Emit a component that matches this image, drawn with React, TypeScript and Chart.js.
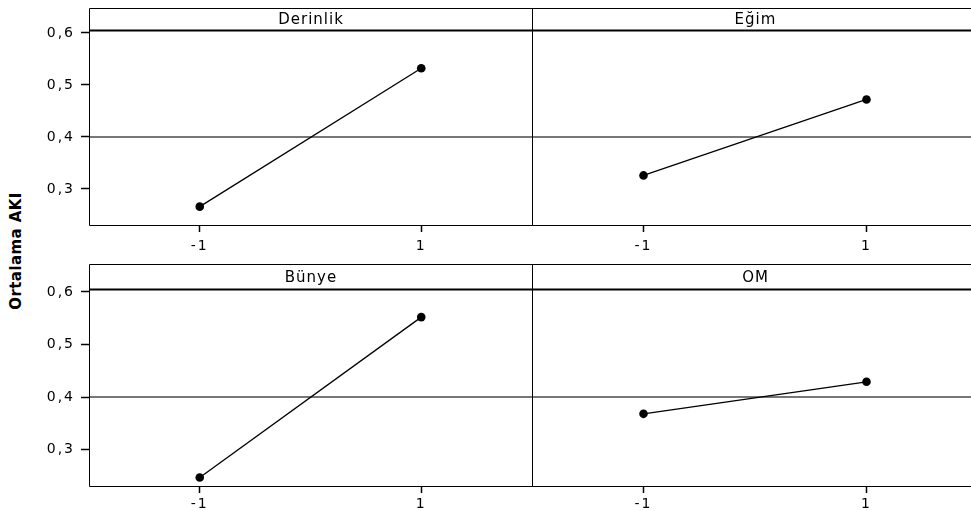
import React, { useEffect, useRef } from "react";
import { Chart, registerables } from "chart.js";

Chart.register(...registerables);

// ---------- data ----------
const levels = [-1, 1];
const derinlikMeans = [0.266, 0.532];
const egimMeans = [0.326, 0.472];
const bunyeMeans = [0.247, 0.552];
const omMeans = [0.368, 0.429];
const grandMean = 0.4;
const yTickValues = [0.3, 0.4, 0.5, 0.6];
const xTickValues = [-1, 1];
const panelNames = ["Derinlik", "Eğim", "Bünye", "OM"];
const yAxisTitle = "Ortalama AKI";

const FONT = "'DejaVu Sans', Verdana, sans-serif";

type PanelCfg = {
  name: string;
  values: number[];
  left: number;
  top: number;
  width: number;
  height: number;
  padLeft: number;
  padTop: number;
  padRight: number;
  yWidth: number;
  xHeight: number;
  xPad: number;
  stripH: number;
  showY: boolean;
  drawRight: boolean;
};

const panels: PanelCfg[] = [
  { name: panelNames[0], values: derinlikMeans, left: 30, top: 0, width: 504, height: 254, padLeft: 0, padTop: 30, padRight: 2, yWidth: 59, xHeight: 29, xPad: 6, stripH: 22, showY: true, drawRight: true },
  { name: panelNames[1], values: egimMeans, left: 522, top: 0, width: 460, height: 254, padLeft: 10, padTop: 30, padRight: 4, yWidth: 0, xHeight: 29, xPad: 6, stripH: 22, showY: false, drawRight: false },
  { name: panelNames[2], values: bunyeMeans, left: 30, top: 256, width: 504, height: 255, padLeft: 0, padTop: 33, padRight: 2, yWidth: 59, xHeight: 25, xPad: 3, stripH: 25, showY: true, drawRight: true },
  { name: panelNames[3], values: omMeans, left: 522, top: 256, width: 460, height: 255, padLeft: 10, padTop: 33, padRight: 4, yWidth: 0, xHeight: 25, xPad: 3, stripH: 25, showY: false, drawRight: false },
];

const boxPlugin = {
  id: "panelBox",
  beforeDraw(chart: any) {
    (chart.ctx as any).letterSpacing = "2px";
  },
  afterDraw(chart: any) {
    const cfg: PanelCfg = chart.options.plugins.panelBox.cfg;
    const { left, top, right, bottom } = chart.chartArea;
    const ctx = chart.ctx as CanvasRenderingContext2D;
    const L = Math.floor(left) + 0.5;
    const R = Math.floor(right) + 0.5;
    const T = Math.floor(top) + 0.5;
    const B = Math.floor(bottom) + 0.5;
    const ST = T - cfg.stripH;
    ctx.save();
    ctx.strokeStyle = "#000";
    ctx.lineWidth = 1;
    ctx.beginPath();
    ctx.moveTo(R, ST);
    ctx.lineTo(L, ST);
    ctx.lineTo(L, B);
    ctx.lineTo(R, B);
    if (cfg.drawRight) ctx.lineTo(R, ST);
    ctx.stroke();
    ctx.lineWidth = 1.8;
    ctx.beginPath();
    ctx.moveTo(L, T);
    ctx.lineTo(R, T);
    ctx.stroke();
    ctx.fillStyle = "#000";
    ctx.font = `15px ${FONT}`;
    (ctx as any).letterSpacing = "1px";
    ctx.textAlign = "center";
    ctx.textBaseline = "middle";
    ctx.fillText(cfg.name, (left + right) / 2 + 0.5, ST + cfg.stripH / 2 + 1);
    ctx.restore();
  },
};

function Panel({ cfg }: { cfg: PanelCfg }) {
  const ref = useRef<HTMLCanvasElement>(null);
  useEffect(() => {
    const chart = new Chart(ref.current as HTMLCanvasElement, {
      type: "line",
      data: {
        datasets: [
          {
            data: levels.map((x, i) => ({ x, y: cfg.values[i] })),
            borderColor: "#000",
            borderWidth: 1.3,
            pointRadius: 4.3,
            pointBackgroundColor: "#000",
            pointBorderColor: "#000",
            pointBorderWidth: 0,
          },
          {
            data: [
              { x: -2, y: grandMean },
              { x: 2, y: grandMean },
            ],
            borderColor: "#4a4a4a",
            borderWidth: 1.5,
            pointRadius: 0,
          },
        ],
      },
      options: {
        animation: false,
        responsive: false,
        maintainAspectRatio: false,
        devicePixelRatio: 1,
        events: [],
        layout: { autoPadding: false, padding: { left: cfg.padLeft, top: cfg.padTop, right: cfg.padRight, bottom: 0 } },
        plugins: {
          legend: { display: false },
          tooltip: { enabled: false },
          title: { display: false },
          panelBox: { cfg },
        } as any,
        scales: {
          x: {
            type: "linear",
            min: -2,
            max: 2,
            afterBuildTicks: (s: any) => {
              s.ticks = xTickValues.map((v) => ({ value: v }));
            },
            afterFit: (s: any) => {
              s.height = cfg.xHeight;
            },
            grid: { drawOnChartArea: false, drawTicks: true, tickLength: 7, tickColor: "#000", tickWidth: 1.5 },
            border: { display: false },
            ticks: {
              color: "#000",
              font: { family: FONT, size: 14 },
              padding: cfg.xPad,
              maxRotation: 0,
              autoSkip: false,
              callback: (v: any) => String(v),
            },
          },
          y: {
            type: "linear",
            display: cfg.showY,
            min: 0.2307,
            max: 0.6055,
            afterBuildTicks: (s: any) => {
              s.ticks = yTickValues.map((v) => ({ value: v }));
            },
            afterFit: (s: any) => {
              s.width = cfg.yWidth;
            },
            grid: { drawOnChartArea: false, drawTicks: true, tickLength: 8, tickColor: "#000", tickWidth: 1.5 },
            border: { display: false },
            ticks: {
              color: "#000",
              font: { family: FONT, size: 14 },
              padding: 6,
              autoSkip: false,
              callback: (v: any) => Number(v).toFixed(1).replace(".", ","),
            },
          },
        },
      } as any,
      plugins: [boxPlugin],
    });
    return () => chart.destroy();
  }, [cfg]);
  return (
    <canvas
      ref={ref}
      width={cfg.width}
      height={cfg.height}
      style={{ position: "absolute", left: cfg.left, top: cfg.top, width: cfg.width, height: cfg.height }}
    />
  );
}

export default function App() {
  return (
    <div
      style={{
        position: "fixed",
        left: 0,
        top: 0,
        width: 971,
        height: 511,
        overflow: "hidden",
        background: "#fff",
      }}
    >
      {panels.map((p) => (
        <Panel key={p.name} cfg={p} />
      ))}
      <div
        style={{
          position: "absolute",
          left: 16,
          top: 251,
          transform: "translate(-50%, -50%) rotate(-90deg)",
          whiteSpace: "nowrap",
          fontFamily: FONT,
          fontWeight: "bold",
          fontSize: 15,
          letterSpacing: "0.4px",
          color: "#000",
          lineHeight: 1,
        }}
      >
        {yAxisTitle}
      </div>
    </div>
  );
}
